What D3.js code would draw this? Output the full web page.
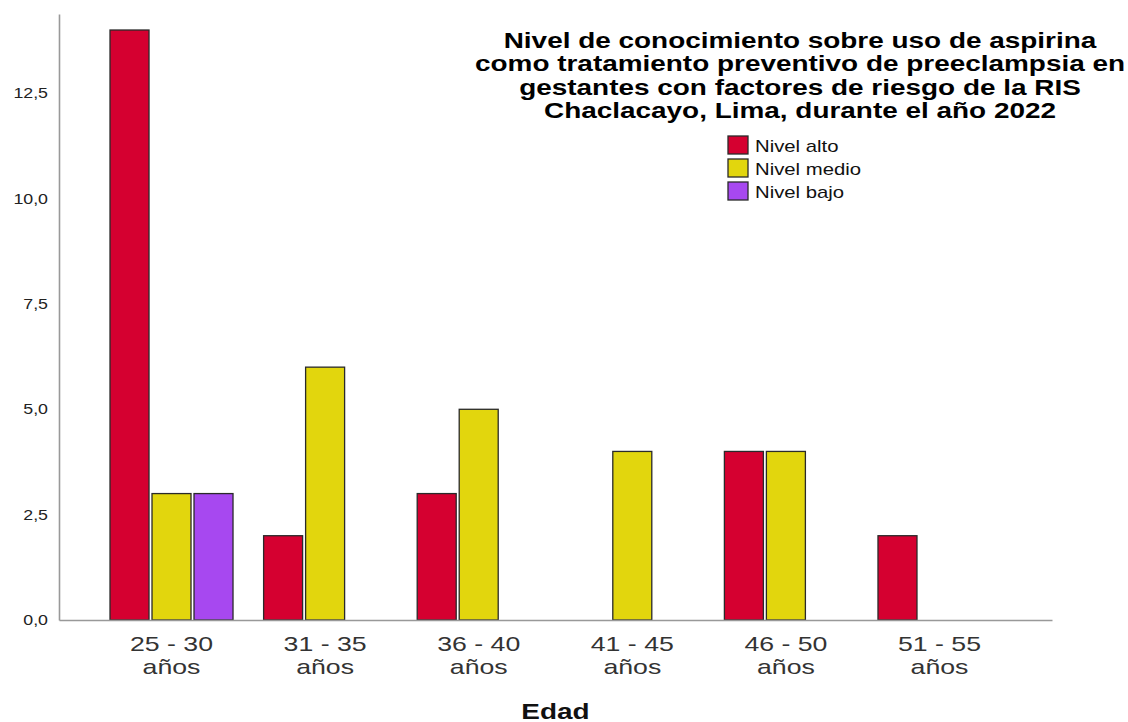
<!DOCTYPE html>
<html>
<head>
<meta charset="utf-8">
<script src="https://cdn.jsdelivr.net/npm/d3@7"></script>
<style>
  html, body { margin: 0; padding: 0; background: #fff; }
  svg { display: block; font-family: "Liberation Sans", Arial, sans-serif; }
</style>
</head>
<body>
<svg id="chart" width="1128" height="722"></svg>
<script>
// ---- data ----
const categories = ["25 - 30 años", "31 - 35 años", "36 - 40 años", "41 - 45 años", "46 - 50 años", "51 - 55 años"];
const seriesNames = ["Nivel alto", "Nivel medio", "Nivel bajo"];
const nivelAlto  = [14, 2, 3, 0, 4, 2];
const nivelMedio = [3, 6, 5, 4, 4, 0];
const nivelBajo  = [3, 0, 0, 0, 0, 0];
const yTicks = [0, 2.5, 5, 7.5, 10, 12.5];
const titleLines = [
  "Nivel de conocimiento sobre uso de aspirina",
  "como tratamiento preventivo de preeclampsia en",
  "gestantes con factores de riesgo de la RIS",
  "Chaclacayo, Lima, durante el año 2022"
];
const xTitle = "Edad";
const colors = ["#d50030", "#e2d60d", "#a748f0"];

const seriesValues = [nivelAlto, nivelMedio, nivelBajo];
const SX = 1.27; // horizontal text stretch seen in the reference

const svg = d3.select("#chart");

const x0 = d3.scaleBand().domain(categories).range([59, 1052]).paddingOuter(0.2325).paddingInner(0);
const groupW = 123;
const x1 = d3.scaleBand().domain(seriesNames).range([0, groupW]).paddingInner(3 / 42).paddingOuter(0);
const y = d3.scaleLinear().domain([0, 14.38]).range([620, 14]);
const color = d3.scaleOrdinal().domain(seriesNames).range(colors);
const fmt = v => d3.format(".1f")(v).replace(".", ",");

// bars
const rows = [];
categories.forEach((c, i) => {
  seriesNames.forEach((s, j) => {
    const v = seriesValues[j][i];
    if (v > 0) rows.push({ c, s, v });
  });
});
const off = (x0.bandwidth() - groupW) / 2;
svg.append("g").selectAll("rect").data(rows).join("rect")
  .attr("x", d => x0(d.c) + off + x1(d.s))
  .attr("y", d => y(d.v))
  .attr("width", x1.bandwidth())
  .attr("height", d => y(0) - y(d.v))
  .attr("fill", d => color(d.s))
  .attr("stroke", "#2a2a2a")
  .attr("stroke-width", 1.3);

// y axis
const yAxis = svg.append("g").attr("transform", "translate(59,0)")
  .call(d3.axisLeft(y).tickValues(yTicks).tickFormat(fmt).tickSize(0).tickSizeOuter(0));
yAxis.select(".domain").attr("stroke", "#999").attr("stroke-width", 1.6);
yAxis.selectAll(".tick text")
  .attr("x", 0)
  .attr("transform", `translate(-11,0) scale(${SX},1)`)
  .attr("font-size", 14)
  .attr("font-family", "Liberation Sans, Arial, sans-serif")
  .attr("fill", "#222");

// x axis
const xAxis = svg.append("g").attr("transform", "translate(0,620)")
  .call(d3.axisBottom(x0).tickSize(0).tickSizeOuter(0));
xAxis.select(".domain").attr("stroke", "#999").attr("stroke-width", 1.6);
xAxis.selectAll(".tick text").each(function (d) {
  const t = d3.select(this);
  const k = d.lastIndexOf(" ");
  const l1 = d.slice(0, k), l2 = d.slice(k + 1);
  t.text(null)
    .attr("y", 0).attr("dy", null)
    .attr("transform", `scale(${SX},1)`)
    .attr("font-size", 21)
    .attr("font-family", "Liberation Sans, Arial, sans-serif")
    .attr("fill", "#333")
    .attr("text-anchor", "middle");
  t.append("tspan").attr("x", 0).attr("y", 31).text(l1);
  t.append("tspan").attr("x", 0).attr("y", 54).text(l2);
});

// x title
svg.append("g").attr("transform", `translate(${(59 + 1052) / 2},719)`)
  .append("text")
  .attr("transform", `scale(${SX},1)`)
  .attr("text-anchor", "middle")
  .attr("font-size", 22).attr("font-weight", "bold").attr("fill", "#111")
  .text(xTitle);

// chart title
const tg = svg.append("g");
titleLines.forEach((line, i) => {
  tg.append("g").attr("transform", `translate(800,${48 + i * 23.4})`)
    .append("text")
    .attr("transform", `scale(${SX},1)`)
    .attr("text-anchor", "middle")
    .attr("font-size", 22).attr("font-weight", "bold").attr("fill", "#000")
    .text(line);
});

// legend
const lg = svg.append("g");
seriesNames.forEach((s, i) => {
  const yy = 136 + i * 23;
  lg.append("rect").attr("x", 728).attr("y", yy).attr("width", 20).attr("height", 18)
    .attr("fill", color(s)).attr("stroke", "#2a2a2a").attr("stroke-width", 1.3);
  lg.append("g").attr("transform", `translate(755,${yy + 16})`)
    .append("text").attr("transform", `scale(${SX},1)`)
    .attr("font-size", 16).attr("fill", "#111").text(s);
});
</script>
</body>
</html>
